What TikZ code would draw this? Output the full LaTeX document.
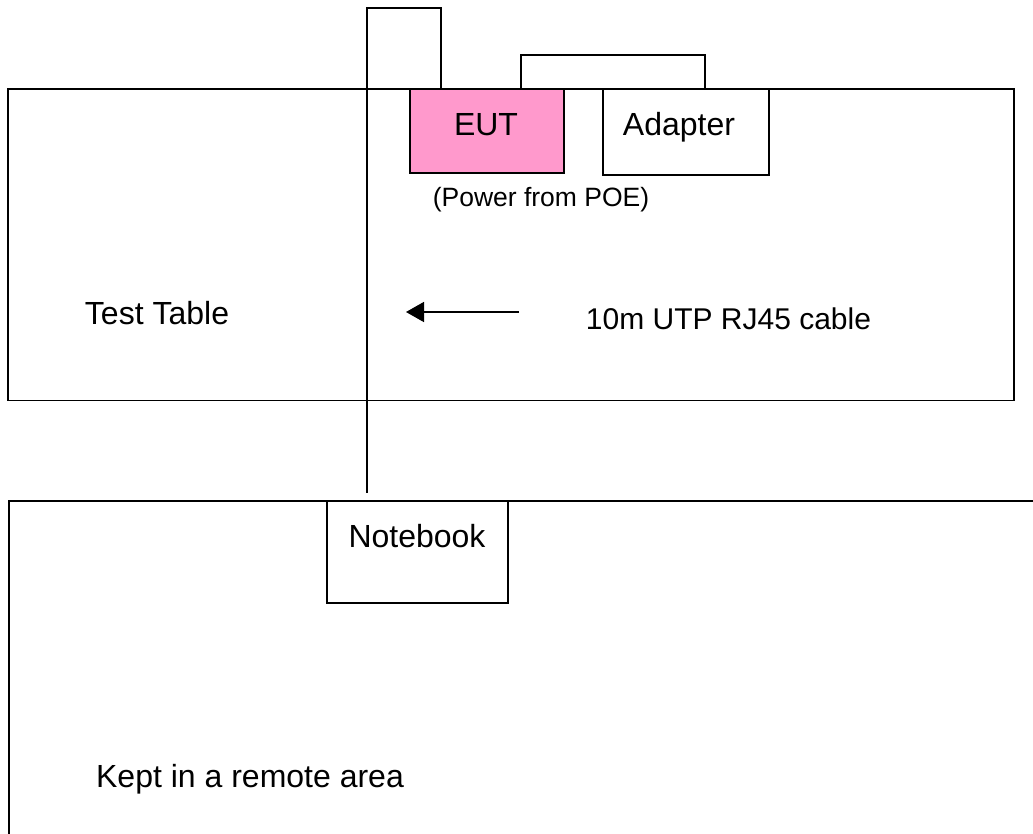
\documentclass[tikz,border=0pt]{standalone}
\usepackage{fontspec}
\setmainfont{Liberation Sans}
\usetikzlibrary{arrows.meta}
\definecolor{eutpink}{HTML}{FF99CC}
\begin{document}
\begin{tikzpicture}[x=1pt,y=-1pt,
  line width=1.7pt,
  boxnode/.style={draw=black, inner sep=0pt, line width=1.8pt},
  lbl/.style={inner sep=0pt, anchor=base, font=\fontsize{32}{38}\selectfont},
  smalllbl/.style={inner sep=0pt, anchor=base, font=\fontsize{26.5}{32}\selectfont},
  wire/.style={draw=black, line width=1.6pt}
]
\useasboundingbox (0,0) rectangle (1033,833);
\fill[white] (0,0) rectangle (1033,833);

% boxes
\node[boxnode, minimum width=1006pt, minimum height=311.5pt] (table) at (511,244.75) {};
\node[boxnode, fill=eutpink, minimum width=154pt, minimum height=83.7pt] (eut) at (487,130.85) {};
\node[boxnode, fill=white, minimum width=165.7pt, minimum height=85.7pt] (adapter) at (686.15,131.85) {};
\node[boxnode, minimum width=181pt, minimum height=101.7pt] (notebook) at (417.2,551.85) {};

% remote area (open box)
\coordinate (remTR) at (1034,501);
\coordinate (remBL) at (9,835);
\draw[wire, line width=1.8pt] (remTR) -| (remBL);

% labels
\node[lbl] (eutT) at (486,135) {EUT};
\node[lbl] (adaT) at (679,135) {Adapter};
\node[smalllbl] (powT) at (541,206.7) {(Power from POE)};
\node[lbl] (tabT) at (157,324) {Test Table};
\node[lbl, font=\fontsize{30}{36}\selectfont] (cabT) at (728.5,329) {10m UTP RJ45 cable};
\node[lbl] (nbT) at (417,547.3) {Notebook};
\node[lbl] (remT) at (250,787) {Kept in a remote area};

% RJ45 cable from EUT down to notebook
\coordinate (cabletop) at (441,8);
\coordinate (cableend) at (367,493.3);
\draw[wire] (eut.north -| cabletop) -- (cabletop) -| (cableend);

% power link EUT - adapter
\coordinate (pwrL) at (521,55);
\coordinate (pwrR) at (705,55);
\draw[wire] (eut.north -| pwrL) -- (pwrL) -- (pwrR) -- (adapter.north -| pwrR);

% arrow
\coordinate (arrS) at (519,312);
\coordinate (arrE) at (406,312);
\draw[wire, -{Triangle[length=18pt,width=20pt]}] (arrS) -- (arrE);
\end{tikzpicture}
\end{document}
